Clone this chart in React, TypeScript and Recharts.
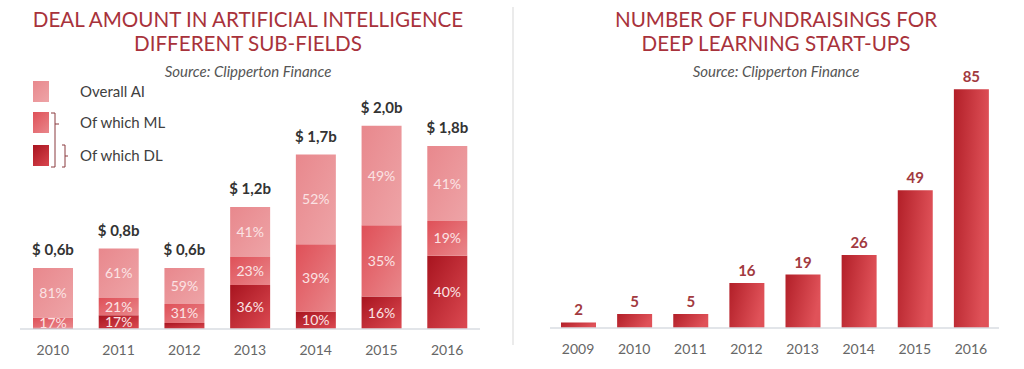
import { BarChart, Bar, XAxis, YAxis, LabelList } from "recharts";

const dealYears = ["2010", "2011", "2012", "2013", "2014", "2015", "2016"];
const dealTotals = [0.6, 0.8, 0.6, 1.2, 1.7, 2.0, 1.8];
const dealTotalLabels = ["$ 0,6b", "$ 0,8b", "$ 0,6b", "$ 1,2b", "$ 1,7b", "$ 2,0b", "$ 1,8b"];
const dlPct = [2, 17, 10, 36, 10, 16, 40];
const mlPct = [17, 21, 31, 23, 39, 35, 19];
const aiPct = [81, 61, 59, 41, 52, 49, 41];

const fundYears = ["2009", "2010", "2011", "2012", "2013", "2014", "2015", "2016"];
const fundCounts = [2, 5, 5, 16, 19, 26, 49, 85];

const FONT = "Lato, 'Open Sans', sans-serif";
const TITLE_RED = "#a8323b";

const dealData = dealYears.map((year, i) => {
  const dl = (dealTotals[i] * dlPct[i]) / 100;
  return {
    year,
    dl,
    ml: (dealTotals[i] * mlPct[i]) / 100,
    ai: (dealTotals[i] * aiPct[i]) / 100,
    dlLabel: dl >= 0.1 ? dlPct[i] + "%" : "",
    mlLabel: mlPct[i] + "%",
    aiLabel: aiPct[i] + "%",
    total: dealTotalLabels[i],
  };
});

const fundData = fundYears.map((year, i) => ({ year, count: fundCounts[i] }));

const pctLabel = { fill: "#fbe3e4", fontSize: 14, fontFamily: FONT };
const tickStyle = { fontSize: 14, fill: "#666", fontFamily: FONT };

// label above a bar, drawn without wrapping
function topLabel(fill: string, offset: number, size: number) {
  return (props: any) => {
    const { x, y, width, value } = props;
    return (
      <text
        x={Number(x) + Number(width) / 2}
        y={Number(y) - offset}
        textAnchor="middle"
        fill={fill}
        fontSize={size}
        fontWeight={700}
        fontFamily={FONT}
      >
        {value}
      </text>
    );
  };
}

function Titles({ lines, cx }: { lines: string[]; cx: number }) {
  return (
    <div
      style={{
        position: "absolute",
        left: cx - 250,
        top: 7,
        width: 500,
        textAlign: "center",
        fontFamily: FONT,
      }}
    >
      {lines.map((l) => (
        <div key={l} style={{ fontSize: 20.6, color: TITLE_RED, lineHeight: "24px" }}>
          {l}
        </div>
      ))}
      <div
        style={{
          fontSize: 15,
          fontStyle: "italic",
          color: "#555",
          marginTop: 6,
          lineHeight: "20px",
        }}
      >
        Source: Clipperton Finance
      </div>
    </div>
  );
}

function Legend() {
  const items = [
    { label: "Overall AI", bg: "linear-gradient(135deg,#e8888d,#eea4a7)", y: 81 },
    { label: "Of which ML", bg: "linear-gradient(135deg,#df5058,#e9878b)", y: 112 },
    { label: "Of which DL", bg: "linear-gradient(135deg,#a8141f,#d9464e)", y: 145 },
  ];
  return (
    <>
      {items.map((it) => (
        <div key={it.label}>
          <div
            style={{
              position: "absolute",
              left: 33,
              top: it.y,
              width: 16,
              height: 21,
              background: it.bg,
            }}
          />
          <div
            style={{
              position: "absolute",
              left: 80,
              top: it.y,
              height: 21,
              lineHeight: "21px",
              fontSize: 15,
              color: "#404040",
              fontFamily: FONT,
            }}
          >
            {it.label}
          </div>
        </div>
      ))}
      <svg style={{ position: "absolute", left: 0, top: 0 }} width={100} height={180}>
        <path d="M51 113 H55 V167 H51 M55 124 H59" fill="none" stroke="#8a3a3f" strokeWidth={1} />
        <path d="M62 145 H65 V167 H62 M65 156 H68" fill="none" stroke="#8a3a3f" strokeWidth={1} />
      </svg>
    </>
  );
}

export default function App() {
  return (
    <div
      style={{
        position: "fixed",
        left: 0,
        top: 0,
        width: 1024,
        height: 369,
        background: "#fff",
        fontFamily: FONT,
        overflow: "hidden",
      }}
    >
      <div style={{ position: "absolute", left: 0, top: 0 }}>
        <BarChart
          width={512}
          height={369}
          data={dealData}
          margin={{ top: 75, right: 32, bottom: 10, left: 20 }}
        >
          <defs>
            <linearGradient id="gAi" x1="0" y1="0" x2="1" y2="1">
              <stop offset="0%" stopColor="#e8888d" />
              <stop offset="100%" stopColor="#eea4a7" />
            </linearGradient>
            <linearGradient id="gMl" x1="0" y1="0" x2="1" y2="1">
              <stop offset="0%" stopColor="#df5058" />
              <stop offset="100%" stopColor="#e9878b" />
            </linearGradient>
            <linearGradient id="gDl" x1="0" y1="0" x2="1" y2="1">
              <stop offset="0%" stopColor="#a8141f" />
              <stop offset="100%" stopColor="#dc4a52" />
            </linearGradient>
          </defs>
          <XAxis
            dataKey="year"
            axisLine={{ stroke: "#d9dde2", strokeWidth: 1.5 }}
            tickLine={false}
            tick={tickStyle}
            tickMargin={10}
            height={30}
          />
          <YAxis hide domain={[0, 2.5]} />
          <Bar dataKey="dl" stackId="a" fill="url(#gDl)" barSize={40} isAnimationActive={false}>
            <LabelList dataKey="dlLabel" position="center" style={pctLabel} />
          </Bar>
          <Bar dataKey="ml" stackId="a" fill="url(#gMl)" barSize={40} isAnimationActive={false}>
            <LabelList dataKey="mlLabel" position="center" style={pctLabel} />
          </Bar>
          <Bar dataKey="ai" stackId="a" fill="url(#gAi)" barSize={40} isAnimationActive={false}>
            <LabelList dataKey="aiLabel" position="center" style={pctLabel} />
            <LabelList dataKey="total" content={topLabel("#333", 13, 15)} />
          </Bar>
        </BarChart>
      </div>

      <div style={{ position: "absolute", left: 512, top: 0 }}>
        <BarChart
          width={512}
          height={369}
          data={fundData}
          margin={{ top: 47, right: 25, bottom: 11, left: 38 }}
        >
          <defs>
            <linearGradient id="gFund" x1="0" y1="0" x2="1" y2="0.3">
              <stop offset="0%" stopColor="#b21f28" />
              <stop offset="100%" stopColor="#e05259" />
            </linearGradient>
          </defs>
          <XAxis
            dataKey="year"
            axisLine={{ stroke: "#d9dde2", strokeWidth: 1.5 }}
            tickLine={false}
            tick={tickStyle}
            tickMargin={10}
            height={30}
          />
          <YAxis hide domain={[0, 100]} />
          <Bar dataKey="count" fill="url(#gFund)" barSize={35} isAnimationActive={false}>
            <LabelList dataKey="count" content={topLabel("#a23a40", 7, 15)} />
          </Bar>
        </BarChart>
      </div>

      <div
        style={{
          position: "absolute",
          left: 512,
          top: 7,
          width: 2,
          height: 338,
          background: "#ebebeb",
        }}
      />

      <Titles lines={["DEAL AMOUNT IN ARTIFICIAL INTELLIGENCE", "DIFFERENT SUB-FIELDS"]} cx={248} />
      <Titles lines={["NUMBER OF FUNDRAISINGS FOR", "DEEP LEARNING START-UPS"]} cx={776} />
      <Legend />
    </div>
  );
}
